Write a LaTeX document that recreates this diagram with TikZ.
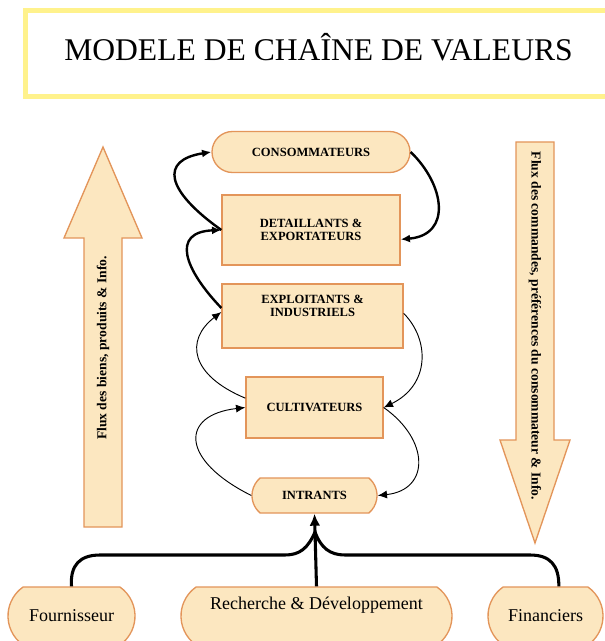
\documentclass[tikz,border=0pt]{standalone}
\usepackage{fontspec}
\setmainfont{Liberation Serif}
\usetikzlibrary{arrows.meta,shapes.misc}
\definecolor{StageFill}{HTML}{FCE7C0}
\definecolor{StageEdge}{HTML}{E3955A}
\definecolor{TitleYellow}{HTML}{FFF28C}

\tikzset{
  stage/.style={draw=StageEdge,fill=StageFill,line width=1pt,inner sep=0pt,align=center,
    font=\bfseries\fontsize{9.4}{10}\selectfont},
  pill/.style={stage,rounded rectangle,rounded rectangle arc length=#1},
  actor/.style={pill=110,font=\fontsize{13.5}{15}\selectfont},
  flowtext/.style={font=\bfseries\fontsize{10.2}{11}\selectfont,inner sep=0pt},
  link/.style={-{Latex[length=7pt,width=6pt]},line width=1.8pt},
  thinlink/.style={-{Latex[length=7pt,width=6pt]},line width=.7pt},
  branch/.style={line width=2.3pt}
}

\begin{document}
\begin{tikzpicture}[x=.75pt,y=-.75pt]
  \useasboundingbox (0,0) rectangle (605,641);
  \clip (0,0) rectangle (605,641);
  \fill[white] (0,0) rectangle (605,641);

  \node[draw=TitleYellow,line width=3.75pt,minimum width=440pt,minimum height=65pt,
    text height=15.6pt,text depth=5.2pt,font=\fontsize{23.7}{26}\selectfont] (title)
    at (318.5,53.5) {MODELE DE CHAÎNE DE VALEURS};

  \draw[draw=StageEdge,fill=StageFill,line width=1pt]
    (84,527) -- (84,238) -- (64,238) -- (103,147) -- (142,238) -- (122,238) -- (122,527) -- cycle;
  \draw[draw=StageEdge,fill=StageFill,line width=1pt]
    (516,142) -- (554,142) -- (554,440) -- (570,440) -- (535,543) -- (500,440) -- (516,440) -- cycle;
  \node[flowtext,rotate=90] (upflow) at (103,348) {Flux des biens, produits \& Info.};
  \node[flowtext,rotate=-90] (downflow) at (535,326) {Flux des commandes, préférences du consommateur \& Info.};

  \node[pill=180,minimum width=148.5pt,minimum height=30.75pt] (cons) at (311,152) {CONSOMMATEURS};
  \node[stage,minimum width=133.5pt,minimum height=52.5pt] (det) at (311,230) {DETAILLANTS \&\\EXPORTATEURS};
  \node[stage,minimum width=135.75pt,minimum height=48pt,text depth=15pt] (expl) at (312.5,316) {EXPLOITANTS \&\\INDUSTRIELS};
  \node[stage,minimum width=102.75pt,minimum height=45.75pt] (cult) at (314.5,407.5) {CULTIVATEURS};
  \node[pill=100,minimum width=93.75pt,minimum height=26.25pt] (intr) at (314.5,495.5) {INTRANTS};

  \node[actor,minimum width=95.25pt,minimum height=43.5pt] (fourn) at (71.5,616) {Fournisseur};
  \node[actor,minimum width=203.25pt,minimum height=43.5pt,text depth=19pt] (rech) at (316.5,616) {Recherche \& Développement};
  \node[actor,minimum width=86.25pt,minimum height=43.5pt] (finan) at (545.5,616) {Financiers};

  \draw[thinlink] (intr.west) .. controls (180,460) and (180,415) .. (cult.west);
  \draw[thinlink] ([yshift=7pt]cult.west) .. controls (190,375) and (185,340) .. ([yshift=3pt]expl.west);
  \draw[link] ([yshift=6pt]expl.west) .. controls (185,270) and (170,232) .. (det.west);
  \draw[link] (det.west) .. controls (165,190) and (160,160) .. (cons.west);

  \draw[link] (cons.east) .. controls (445,185) and (452,235) .. ([yshift=-7pt]det.east);
  \draw[thinlink] ([yshift=2pt]expl.east) .. controls (430,340) and (430,385) .. (cult.east);
  \draw[thinlink] (cult.east) .. controls (430,440) and (430,490) .. (intr.east);

  \coordinate (join) at (315,532);
  \draw[branch,-{Latex[length=9pt,width=8pt]}] (rech.north) -- (intr.south);
  \draw[branch] (fourn.north) .. controls (70,565) and (80,555) .. (100,555) -- (285,555)
    .. controls (300,555) and (308,548) .. (join);
  \draw[branch] ([xshift=10pt]finan.north) .. controls (559,565) and (550,555) .. (530,555) -- (345,555)
    .. controls (330,555) and (321,548) .. (join);
\end{tikzpicture}
\end{document}
